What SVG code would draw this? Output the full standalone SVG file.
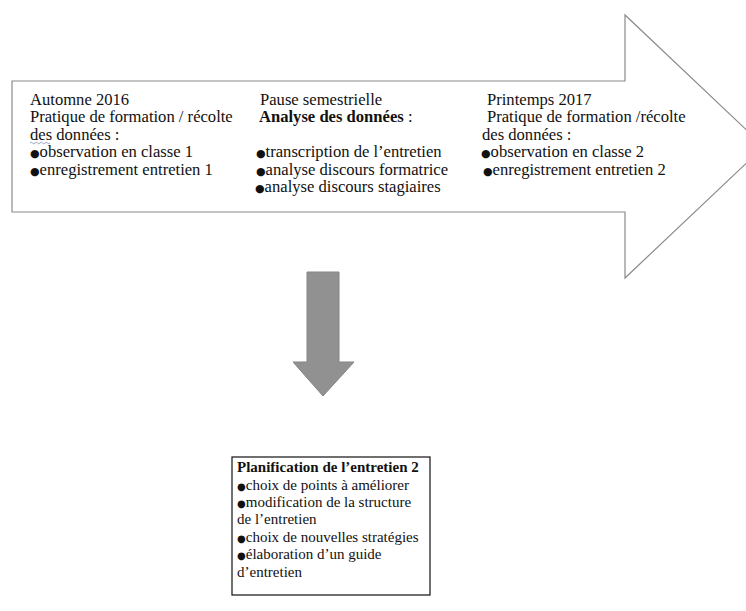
<svg xmlns="http://www.w3.org/2000/svg" width="746" height="611" viewBox="0 0 746 611">
<style>
text{font-family:"Liberation Serif","Times New Roman",serif;font-size:15px;fill:#111}
.t{font-size:16.6px}
.b{font-weight:bold}
.bu{font-family:"DejaVu Sans",sans-serif;font-size:11px}
</style>
<rect width="746" height="611" fill="#fff"/>
<g id="timeline">
<polygon points="12,81 625,81 625,15 764,146.5 625,278 625,212 12,212" fill="#fff" stroke="#8a8a8a" stroke-width="1.2"/>
</g>
<g id="automne">
<text class="t" x="30" y="104.5">Automne 2016</text>
<text class="t" x="30" y="122">Pratique de formation / récolte</text>
<text class="t" x="30" y="139.5">des données :</text>
<path d="M30,143 q1.25,-1.5 2.5,0 t2.5,0 t2.5,0 t2.5,0 t2.5,0 t2.5,0 t2.5,0 t2.5,0" fill="none" stroke="#8090b0" stroke-width="0.8"/>
<text class="t" x="30" y="157"><tspan class="bu">●</tspan>observation en classe 1</text>
<text class="t" x="30" y="174.5"><tspan class="bu">●</tspan>enregistrement entretien 1</text>
</g>
<g id="pause">
<text class="t" x="260" y="104.5">Pause semestrielle</text>
<text class="t" x="259" y="122"><tspan class="b">Analyse des données</tspan> :</text>
<text class="t" x="256" y="157"><tspan class="bu">●</tspan>transcription de l’entretien</text>
<text class="t" x="256" y="174.5"><tspan class="bu">●</tspan>analyse discours formatrice</text>
<text class="t" x="255" y="192"><tspan class="bu">●</tspan>analyse discours stagiaires</text>
</g>
<g id="printemps">
<text class="t" x="487" y="104.5">Printemps 2017</text>
<text class="t" x="487" y="122">Pratique de formation /récolte</text>
<text class="t" x="482" y="139.5">des données :</text>
<text class="t" x="481" y="157"><tspan class="bu">●</tspan>observation en classe 2</text>
<text class="t" x="483" y="174.5"><tspan class="bu">●</tspan>enregistrement entretien 2</text>
</g>
<g id="connectors">
<polygon points="307,272 339,272 339,362 354,362 323,396 293,362 307,362" fill="#919191" stroke="#858585" stroke-width="1"/>
</g>
<g id="planification">
<rect x="232" y="457" width="198" height="138" fill="#fff" stroke="#111" stroke-width="1.2"/>
<text x="237" y="472" class="b">Planification de l’entretien 2</text>
<text x="237" y="490"><tspan class="bu" style="font-size:10px">●</tspan>choix de points à améliorer</text>
<text x="237" y="507"><tspan class="bu" style="font-size:10px">●</tspan>modification de la structure</text>
<text x="237" y="524">de l’entretien</text>
<text x="237" y="542"><tspan class="bu" style="font-size:10px">●</tspan>choix de nouvelles stratégies</text>
<text x="237" y="559"><tspan class="bu" style="font-size:10px">●</tspan>élaboration d’un guide</text>
<text x="237" y="577">d’entretien</text>
</g>
</svg>
